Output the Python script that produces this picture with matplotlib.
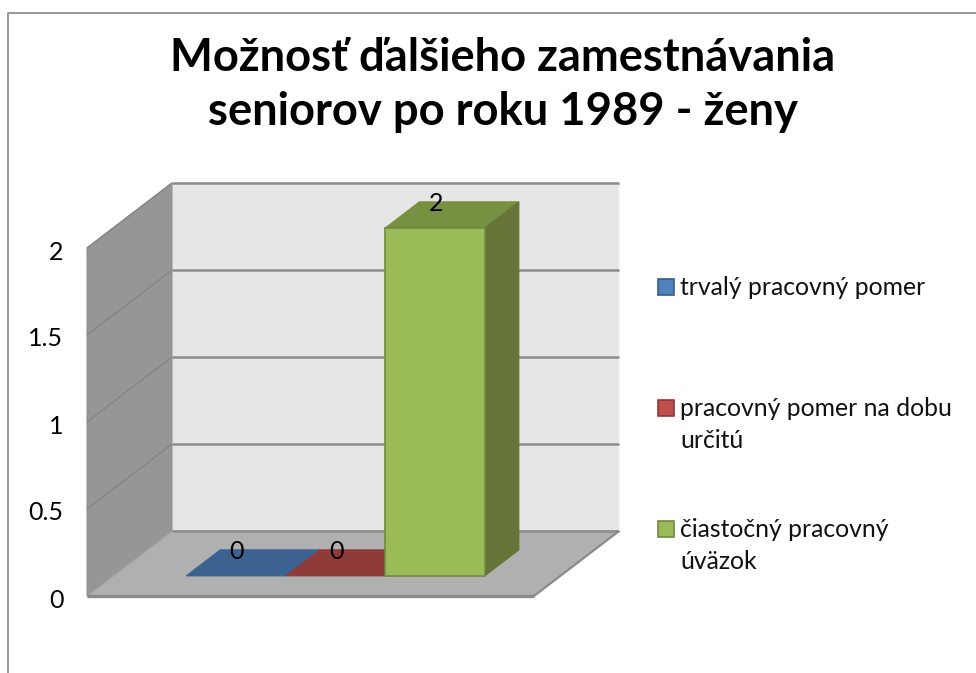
import matplotlib
matplotlib.use("Agg")
import matplotlib.pyplot as plt
from matplotlib.lines import Line2D
from matplotlib.patches import Polygon, Rectangle
from matplotlib.transforms import Affine2D

plt.rcParams['font.family'] = ['Lato', 'DejaVu Sans']

title = "Možnosť ďalšieho zamestnávania\nseniorov po roku 1989 - ženy"
series_names = ["trvalý pracovný pomer", "pracovný pomer na dobu\nurčitú", "čiastočný pracovný\núväzok"]
series_values = [0, 0, 2]
y_ticks = [0, 0.5, 1, 1.5, 2]
y_tick_labels = ["0", "0.5", "1", "1.5", "2"]

front_colors = ["#4F81BD", "#C0504D", "#9BBB59"]
top_colors = ["#3B6291", "#8E3B3A", "#789041"]
side_colors = ["#30507A", "#763130", "#647537"]
edge_colors = ["#385D8A", "#8C3836", "#71893F"]

W, H = 976, 673
fig = plt.figure(figsize=(W / 100, H / 100), dpi=100)
px = Affine2D().scale(1 / W, -1 / H).translate(0, 1) + fig.transFigure

# front plane of the chart box, one x unit is 100 px
ax = fig.add_axes([87 / W, 1 - 596 / H, 447 / W, 348 / H])
ax.set_xlim(0, 4.47)
ax.set_ylim(0, 2)
ax.patch.set_visible(False)
for s in ax.spines.values():
    s.set_visible(False)
ax.set_xticks([])
ax.set_yticks(y_ticks)
ax.set_yticklabels(y_tick_labels, fontsize=18, color="black")
ax.tick_params(axis="y", length=0, pad=17)
for lab in ax.get_yticklabels():
    lab.set_transform(lab.get_transform() + Affine2D().translate(0, -2))

# oblique depth: one full depth step in data units
DX = 0.85
DY = 65 / 174
XMAX = 4.47
VMAX = 2
GAP = 0.73
BAR_W = 0.995
D0, D1 = 0.31, 0.71


def pt(x, v, d):
    return (x + d * DX, v + d * DY)


def face(points, color, edge=None, lw=0, z=1):
    ax.add_patch(Polygon(points, closed=True, facecolor=color, edgecolor=edge or color,
                         linewidth=lw, clip_on=False, zorder=z))


def line(a, b, color="#8C8C8C", lw=2, z=2):
    ax.plot([a[0], b[0]], [a[1], b[1]], color=color, lw=lw, clip_on=False, zorder=z,
            solid_capstyle="butt")


# walls and floor
face([pt(0, 0, 1), pt(XMAX, 0, 1), pt(XMAX, VMAX, 1), pt(0, VMAX, 1)], "#E6E6E6", "#F0F0F0", 1.5)
face([pt(0, 0, 0), pt(0, 0, 1), pt(0, VMAX, 1), pt(0, VMAX, 0)], "#969696", "#929292", 0.8)
face([pt(0, 0, 0), pt(XMAX, 0, 0), pt(XMAX, 0, 1), pt(0, 0, 1)], "#B0B0B0", "#A0A0A0", 1)

for t in y_ticks:
    line(pt(0, t, 1), pt(XMAX, t, 1), lw=1.8)
    if t > 0:
        line(pt(0, t, 0), pt(0, t, 1), color="#858585", lw=1)
line(pt(0, 0, 0), pt(XMAX, 0, 0), lw=2.4)
line(pt(XMAX, 0, 0), pt(XMAX, 0, 1), lw=1.6)

# bars
for i, v in enumerate(series_values):
    x0 = GAP + i * BAR_W
    x1 = x0 + BAR_W
    z = 3 + i
    face([pt(x0, v, D0), pt(x1, v, D0), pt(x1, v, D1), pt(x0, v, D1)], top_colors[i], top_colors[i], 0.8, z)
    if v > 0:
        face([pt(x1, 0, D0), pt(x1, v, D0), pt(x1, v, D1), pt(x1, 0, D1)], side_colors[i], side_colors[i], 0.8, z)
        face([pt(x0, 0, D0), pt(x1, 0, D0), pt(x1, v, D0), pt(x0, v, D0)], front_colors[i], edge_colors[i], 1.2, z)
    ax.annotate(str(v), (x0 + BAR_W / 2 + D0 * DX, v + D1 * DY), xytext=(0.5, -1.5), textcoords="offset points",
                fontsize=18, ha="center", va="center", color="black", zorder=10, annotation_clip=False)

# chart frame, runs off the right and bottom of the picture
fig.add_artist(Line2D([7.5, 7.5, W], [H, 12.5, 12.5], color="#868686", lw=1.2, transform=px))

fig.text(503, 85, title, transform=px, fontsize=32.7, fontweight="bold", ha="center", va="center",
         linespacing=1.37, color="black")

# legend
legend_y = [287, 408, 529]
for name, y, fc, ec in zip(series_names, legend_y, front_colors, edge_colors):
    fig.add_artist(Rectangle((658, y - 8), 16, 16, facecolor=fc, edgecolor=ec, linewidth=1.2, transform=px))
    fig.text(680, y - 11, name, transform=px, fontsize=17.8, ha="left", va="top", linespacing=1.45, color="#111111")

fig.savefig("out.png", dpi=100)
